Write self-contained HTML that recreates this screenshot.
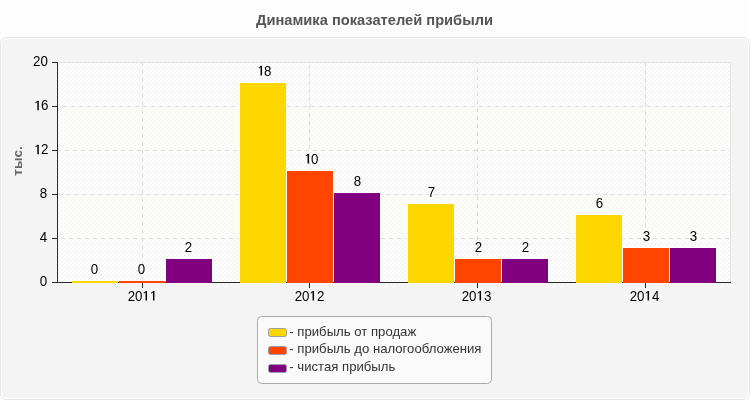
<!DOCTYPE html>
<html><head><meta charset="utf-8"><title>chart</title>
<style>html,body{margin:0;padding:0;background:#fdfdfd;overflow:hidden}svg{display:block;position:absolute;left:0;top:0;will-change:transform}text{font-family:"Liberation Sans",sans-serif;}.v{font-size:14px;fill:#000;text-anchor:middle}.yl{font-size:14px;fill:#000;text-anchor:end}.lg{font-size:13.33px;fill:#333}.d{font-size:14px;fill:#000}</style></head><body>
<svg width="750" height="400" viewBox="0 0 750 400">
<defs><pattern id="h" width="4" height="4" patternUnits="userSpaceOnUse" x="57" y="63"><path d="M-1,1 L1,-1 M0,4 L4,0 M3,5 L5,3" stroke="#ececec" stroke-width="0.9" fill="none"/></pattern></defs>
<rect x="0" y="0" width="750" height="400" fill="#fdfdfd"/>
<rect x="0.5" y="37.5" width="749" height="362" rx="6" ry="6" fill="#f4f4f4" stroke="#e6e6e6" stroke-width="1"/>
<rect x="1.5" y="38.5" width="747" height="360" rx="5" ry="5" fill="none" stroke="#ffffff" stroke-width="1"/>
<text x="374.5" y="25.0" text-anchor="middle" font-size="14.67px" font-weight="bold" fill="#555">Динамика показателей прибыли</text>
<g shape-rendering="crispEdges">
<rect x="58" y="62" width="673" height="220" fill="#ffffff"/>
</g>
<rect x="58" y="63" width="672" height="219" fill="url(#h)"/>
<g shape-rendering="crispEdges">
<rect x="58" y="107" width="673" height="44" fill="rgb(251,252,243)" fill-opacity="0.5"/>
<rect x="58" y="195" width="673" height="44" fill="rgb(251,252,243)" fill-opacity="0.5"/>
</g>
<g shape-rendering="crispEdges">
<rect x="58" y="62" width="673" height="1" fill="#e2e2e2"/>
<rect x="730" y="62" width="1" height="220" fill="#e2e2e2"/>
<line x1="58" y1="238.5" x2="730" y2="238.5" stroke="#dbdbdb" stroke-width="1" stroke-dasharray="4,4" stroke-dashoffset="5"/>
<line x1="58" y1="194.5" x2="730" y2="194.5" stroke="#dbdbdb" stroke-width="1" stroke-dasharray="4,4" stroke-dashoffset="7"/>
<line x1="58" y1="150.5" x2="730" y2="150.5" stroke="#dbdbdb" stroke-width="1" stroke-dasharray="4,4" stroke-dashoffset="1"/>
<line x1="58" y1="106.5" x2="730" y2="106.5" stroke="#dbdbdb" stroke-width="1" stroke-dasharray="4,4" stroke-dashoffset="3"/>
<line x1="142.5" y1="63" x2="142.5" y2="282" stroke="#dbdbdb" stroke-width="1" stroke-dasharray="4,4" stroke-dashoffset="1"/>
<line x1="309.5" y1="63" x2="309.5" y2="282" stroke="#dbdbdb" stroke-width="1" stroke-dasharray="4,4" stroke-dashoffset="6"/>
<line x1="477.5" y1="63" x2="477.5" y2="282" stroke="#dbdbdb" stroke-width="1" stroke-dasharray="4,4" stroke-dashoffset="3"/>
<line x1="645.5" y1="63" x2="645.5" y2="282" stroke="#dbdbdb" stroke-width="1" stroke-dasharray="4,4" stroke-dashoffset="0"/>
<rect x="57" y="62" width="1" height="221" fill="#2a2a2a"/>
<rect x="57" y="282" width="674" height="1" fill="#2a2a2a"/>
<rect x="52" y="282" width="5" height="1" fill="#2a2a2a"/>
<rect x="52" y="238" width="5" height="1" fill="#2a2a2a"/>
<rect x="52" y="194" width="5" height="1" fill="#2a2a2a"/>
<rect x="52" y="150" width="5" height="1" fill="#2a2a2a"/>
<rect x="52" y="106" width="5" height="1" fill="#2a2a2a"/>
<rect x="52" y="62" width="5" height="1" fill="#2a2a2a"/>
<rect x="142" y="283" width="1" height="5" fill="#2a2a2a"/>
<rect x="309" y="283" width="1" height="5" fill="#2a2a2a"/>
<rect x="477" y="283" width="1" height="5" fill="#2a2a2a"/>
<rect x="645" y="283" width="1" height="5" fill="#2a2a2a"/>
<rect x="71" y="280" width="48" height="2" fill="#ffffff"/>
<rect x="72" y="281" width="46" height="2" fill="#FFD700"/>
<rect x="118" y="280" width="48" height="2" fill="#ffffff"/>
<rect x="119" y="281" width="46" height="2" fill="#FF4500"/>
<rect x="165" y="258" width="48" height="24" fill="#ffffff"/>
<rect x="166" y="259" width="46" height="24" fill="#800080"/>
<rect x="239" y="82" width="48" height="200" fill="#ffffff"/>
<rect x="240" y="83" width="46" height="200" fill="#FFD700"/>
<rect x="286" y="170" width="48" height="112" fill="#ffffff"/>
<rect x="287" y="171" width="46" height="112" fill="#FF4500"/>
<rect x="333" y="192" width="48" height="90" fill="#ffffff"/>
<rect x="334" y="193" width="46" height="90" fill="#800080"/>
<rect x="407" y="203" width="48" height="79" fill="#ffffff"/>
<rect x="408" y="204" width="46" height="79" fill="#FFD700"/>
<rect x="454" y="258" width="48" height="24" fill="#ffffff"/>
<rect x="455" y="259" width="46" height="24" fill="#FF4500"/>
<rect x="501" y="258" width="48" height="24" fill="#ffffff"/>
<rect x="502" y="259" width="46" height="24" fill="#800080"/>
<rect x="575" y="214" width="48" height="68" fill="#ffffff"/>
<rect x="576" y="215" width="46" height="68" fill="#FFD700"/>
<rect x="622" y="247" width="48" height="35" fill="#ffffff"/>
<rect x="623" y="248" width="46" height="35" fill="#FF4500"/>
<rect x="669" y="247" width="48" height="35" fill="#ffffff"/>
<rect x="670" y="248" width="46" height="35" fill="#800080"/>
</g>
<text class="d" transform="translate(90.79,273.5) scale(0.952,1)">0</text>
<text class="d" transform="translate(137.79,273.5) scale(0.952,1)">0</text>
<text class="d" transform="translate(184.79,251.5) scale(0.952,1)">2</text>
<path d="M470,0 V1215 L197,1010 V1180 L530,1409 H696 V0 Z" fill="#000" transform="translate(257.49,75.5) scale(0.006508,-0.006836)"/><text class="d" transform="translate(264.10,75.5) scale(0.952,1)">8</text>
<path d="M470,0 V1215 L197,1010 V1180 L530,1409 H696 V0 Z" fill="#000" transform="translate(304.49,163.5) scale(0.006508,-0.006836)"/><text class="d" transform="translate(311.10,163.5) scale(0.952,1)">0</text>
<text class="d" transform="translate(353.79,185.5) scale(0.952,1)">8</text>
<text class="d" transform="translate(427.79,196.5) scale(0.952,1)">7</text>
<text class="d" transform="translate(474.79,251.5) scale(0.952,1)">2</text>
<text class="d" transform="translate(521.79,251.5) scale(0.952,1)">2</text>
<text class="d" transform="translate(595.79,207.5) scale(0.952,1)">6</text>
<text class="d" transform="translate(642.79,240.5) scale(0.952,1)">3</text>
<text class="d" transform="translate(689.79,240.5) scale(0.952,1)">3</text>
<text class="d" transform="translate(39.69,286.3) scale(0.952,1)">0</text>
<text class="d" transform="translate(39.69,242.3) scale(0.952,1)">4</text>
<text class="d" transform="translate(39.69,198.3) scale(0.952,1)">8</text>
<path d="M470,0 V1215 L197,1010 V1180 L530,1409 H696 V0 Z" fill="#000" transform="translate(34.28,154.3) scale(0.006508,-0.006836)"/><text class="d" transform="translate(40.89,154.3) scale(0.952,1)">2</text>
<path d="M470,0 V1215 L197,1010 V1180 L530,1409 H696 V0 Z" fill="#000" transform="translate(34.28,110.3) scale(0.006508,-0.006836)"/><text class="d" transform="translate(40.89,110.3) scale(0.952,1)">6</text>
<text class="d" transform="translate(33.08,66.3) scale(0.952,1)">2</text><text class="d" transform="translate(40.49,66.3) scale(0.952,1)">0</text>
<text class="d" transform="translate(127.68,300.6) scale(0.952,1)">2</text><text class="d" transform="translate(135.09,300.6) scale(0.952,1)">0</text><path d="M470,0 V1215 L197,1010 V1180 L530,1409 H696 V0 Z" fill="#000" transform="translate(142.50,300.6) scale(0.006508,-0.006836)"/><path d="M470,0 V1215 L197,1010 V1180 L530,1409 H696 V0 Z" fill="#000" transform="translate(149.91,300.6) scale(0.006508,-0.006836)"/>
<text class="d" transform="translate(294.68,300.6) scale(0.952,1)">2</text><text class="d" transform="translate(302.09,300.6) scale(0.952,1)">0</text><path d="M470,0 V1215 L197,1010 V1180 L530,1409 H696 V0 Z" fill="#000" transform="translate(309.50,300.6) scale(0.006508,-0.006836)"/><text class="d" transform="translate(316.91,300.6) scale(0.952,1)">2</text>
<text class="d" transform="translate(461.68,300.6) scale(0.952,1)">2</text><text class="d" transform="translate(469.09,300.6) scale(0.952,1)">0</text><path d="M470,0 V1215 L197,1010 V1180 L530,1409 H696 V0 Z" fill="#000" transform="translate(476.50,300.6) scale(0.006508,-0.006836)"/><text class="d" transform="translate(483.91,300.6) scale(0.952,1)">3</text>
<text class="d" transform="translate(629.68,300.6) scale(0.952,1)">2</text><text class="d" transform="translate(637.09,300.6) scale(0.952,1)">0</text><path d="M470,0 V1215 L197,1010 V1180 L530,1409 H696 V0 Z" fill="#000" transform="translate(644.50,300.6) scale(0.006508,-0.006836)"/><text class="d" transform="translate(651.91,300.6) scale(0.952,1)">4</text>
<text transform="translate(21.6,161) rotate(-90)" text-anchor="middle" font-size="13.45px" font-weight="bold" fill="#666">тыс.</text>
<rect x="257.5" y="316.5" width="234" height="67" rx="4" ry="4" fill="#fafafa" stroke="#ababab" stroke-width="1"/>
<rect x="268.5" y="328.5" width="18" height="8" rx="2" ry="2" fill="#FFD700" stroke="#9c9cac" stroke-width="1"/>
<text class="lg" transform="translate(289.3,336.3) scale(0.987,1)" >- прибыль от продаж</text>
<rect x="268.5" y="346.5" width="18" height="8" rx="2" ry="2" fill="#FF4500" stroke="#9c9cac" stroke-width="1"/>
<text class="lg" transform="translate(289.3,353.2) scale(0.987,1)" >- прибыль до налогообложения</text>
<rect x="268.5" y="364.5" width="18" height="8" rx="2" ry="2" fill="#800080" stroke="#9c9cac" stroke-width="1"/>
<text class="lg" transform="translate(289.3,371.3) scale(0.987,1)" >- чистая прибыль</text>
</svg></body></html>
